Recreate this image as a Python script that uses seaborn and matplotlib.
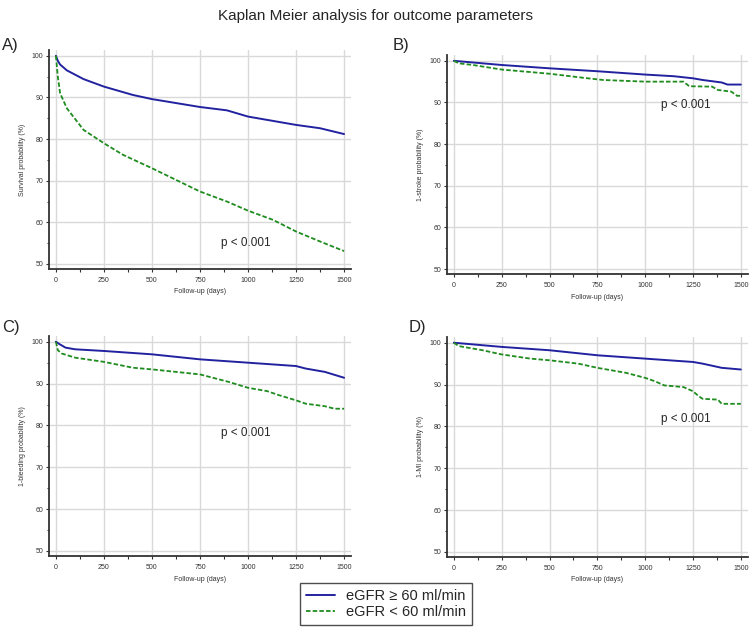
import numpy as np
import pandas as pd
import matplotlib
matplotlib.use("Agg")
import matplotlib.pyplot as plt
from matplotlib.ticker import MultipleLocator
import seaborn as sns

# curve data (days, probability %)
a_hi_days = [0, 10, 22, 57, 144, 250, 400, 500, 750, 890, 1000, 1250, 1375, 1500]
a_hi_vals = [100, 98.8, 97.9, 96.5, 94.4, 92.6, 90.6, 89.6, 87.7, 86.9, 85.4, 83.4, 82.6, 81.2]
a_lo_days = [0, 10, 22, 57, 144, 250, 350, 500, 750, 890, 1000, 1130, 1250, 1375, 1440, 1500]
a_lo_vals = [100, 95, 91, 87.4, 82.2, 79, 76.2, 73, 67.4, 65, 62.8, 60.6, 57.8, 55.4, 54.2, 53.1]

b_hi_days = [0, 250, 500, 750, 1000, 1150, 1250, 1300, 1400, 1430, 1500]
b_hi_vals = [100, 99, 98.2, 97.5, 96.7, 96.3, 95.8, 95.4, 94.8, 94.3, 94.3]
b_lo_days = [0, 25, 100, 250, 500, 700, 780, 1000, 1200, 1230, 1350, 1380, 1450, 1480, 1500]
b_lo_vals = [100, 99.4, 99, 97.9, 96.9, 95.8, 95.4, 95, 95, 93.9, 93.8, 93, 92.6, 91.6, 91.6]

c_hi_days = [0, 20, 50, 100, 250, 500, 750, 1000, 1250, 1300, 1400, 1500]
c_hi_vals = [100, 99.4, 98.6, 98.2, 97.8, 97, 95.8, 95, 94.2, 93.6, 92.8, 91.4]
c_lo_days = [0, 10, 30, 100, 250, 400, 500, 750, 900, 1000, 1100, 1150, 1250, 1300, 1400, 1450, 1500]
c_lo_vals = [100, 98, 97.2, 96.2, 95.2, 93.8, 93.4, 92.2, 90.4, 89, 88.2, 87.4, 86, 85.2, 84.6, 84, 84]

d_hi_days = [0, 250, 500, 750, 1000, 1250, 1300, 1400, 1500]
d_hi_vals = [100, 99, 98.2, 97, 96.2, 95.4, 95, 94, 93.6]
d_lo_days = [0, 25, 150, 250, 400, 500, 650, 750, 900, 1000, 1050, 1100, 1200, 1250, 1280, 1300, 1380, 1400, 1500]
d_lo_vals = [100, 99.2, 98.2, 97.2, 96.2, 95.8, 95, 94, 92.8, 91.6, 90.8, 89.8, 89.4, 88.4, 87.2, 86.6, 86.4, 85.4, 85.4]

panel_letters = ["A)", "B)", "C)", "D)"]
y_labels = ["Survival probability (%)", "1-stroke probability (%)",
            "1-bleeding probability (%)", "1-MI probability (%)"]
p_text = "p < 0.001"
p_pos = [(860, 55), (1080, 89.4), (860, 78.1), (1080, 81.7)]
group_names = ["eGFR \u2265 60 ml/min", "eGFR < 60 ml/min"]

curves = [
    (a_hi_days, a_hi_vals, a_lo_days, a_lo_vals),
    (b_hi_days, b_hi_vals, b_lo_days, b_lo_vals),
    (c_hi_days, c_hi_vals, c_lo_days, c_lo_vals),
    (d_hi_days, d_hi_vals, d_lo_days, d_lo_vals),
]

sns.set_style("white")
plt.rcParams['font.family'] = ['Liberation Sans', 'DejaVu Sans']

blue = "#2222a0"
green = "#1e8c1e"

fig = plt.figure(figsize=(7.5, 6.38), dpi=100)
fig.text(0.5, 0.975, "Kaplan Meier analysis for outcome parameters",
         ha="center", va="center", fontsize=11)

axes_pos = [
    [0.0653, 0.5784, 0.4027, 0.3433],
    [0.596, 0.5705, 0.401, 0.3433],
    [0.0653, 0.1285, 0.4027, 0.345],
    [0.596, 0.127, 0.401, 0.345],
]
label_pos = [(0.003, 0.928), (0.524, 0.928), (0.003, 0.487), (0.545, 0.486)]

handles = None
for i, (hx, hy, lx, ly) in enumerate(curves):
    ax = fig.add_axes(axes_pos[i])
    df_hi = pd.DataFrame({"days": hx, "prob": hy})
    df_lo = pd.DataFrame({"days": lx, "prob": ly})
    sns.lineplot(data=df_hi, x="days", y="prob", ax=ax, color=blue, lw=1.4,
                 label=group_names[0])
    sns.lineplot(data=df_lo, x="days", y="prob", ax=ax, color=green, lw=1.3,
                 linestyle=(0, (2.5, 1.2)), label=group_names[1])
    if handles is None:
        handles, labels = ax.get_legend_handles_labels()
    ax.get_legend().remove()

    ax.set_xlim(-36, 1536)
    ax.set_ylim(48.8, 101.4)
    ax.xaxis.set_major_locator(MultipleLocator(250))
    ax.xaxis.set_minor_locator(MultipleLocator(125))
    ax.yaxis.set_major_locator(MultipleLocator(10))
    ax.yaxis.set_minor_locator(MultipleLocator(5))
    ax.grid(True, which="major", color="#d9d9d9", lw=1.0)
    ax.set_axisbelow(True)
    for s in ["top", "right"]:
        ax.spines[s].set_visible(False)
    for s in ["left", "bottom"]:
        ax.spines[s].set_color("#333333")
        ax.spines[s].set_linewidth(1.3)
    ax.tick_params(which="both", direction="out", colors="#333333",
                   labelsize=5, length=2.5, width=0.8, left=True, bottom=True)
    ax.tick_params(axis="y", pad=1.5)
    ax.tick_params(which="minor", length=1.8)
    ax.set_xlabel("Follow-up (days)", fontsize=5, color="#333333", labelpad=3)
    ax.set_ylabel(y_labels[i], fontsize=5, color="#333333", labelpad=4)
    ax.text(p_pos[i][0], p_pos[i][1], p_text, ha="left", va="center", fontsize=8.5)
    fig.text(label_pos[i][0], label_pos[i][1], panel_letters[i],
             ha="left", va="center", fontsize=12)

leg = fig.legend(handles, labels, loc="center", bbox_to_anchor=(0.5147, 0.0533),
                 fontsize=10.5, frameon=True, fancybox=False, handlelength=2.0,
                 borderpad=0.4, labelspacing=0.1, handletextpad=0.8,
                 borderaxespad=0)
leg.get_frame().set_edgecolor("#222222")
leg.get_frame().set_linewidth(1.0)

fig.savefig("out.png", dpi=100)
